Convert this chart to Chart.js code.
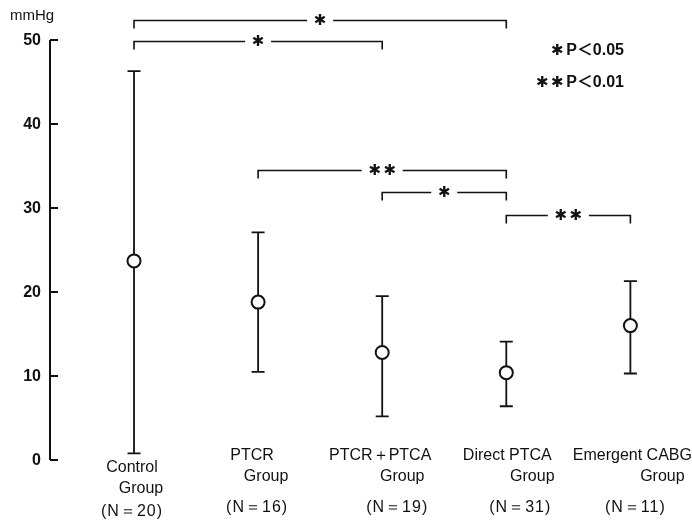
<!DOCTYPE html>
<html>
<head>
<meta charset="utf-8">
<script src="https://cdn.jsdelivr.net/npm/chart.js@4/dist/chart.umd.min.js"></script>
<style>
  body { margin: 0; background: #fff; }
  canvas { display: block; }
</style>
</head>
<body>
<canvas id="chart" width="692" height="523"></canvas>
<script>
// group names (one entry per line of the label) and sample sizes
const groupNames = [
    ['Control', 'Group'],
    ['PTCR', 'Group'],
    ['PTCR＋PTCA', 'Group'],
    ['Direct PTCA', 'Group'],
    ['Emergent CABG', 'Group']
];
const groupN = [20, 16, 19, 31, 11];

// mean and range (mmHg)
const means = [23.7, 18.8, 12.8, 10.4, 16.0];
const upper = [46.3, 27.1, 19.5, 14.1, 21.3];
const lower = [0.8, 10.5, 5.2, 6.4, 10.3];

const yTicks = [0, 10, 20, 30, 40, 50];

// significance brackets: from group, to group, number of stars, level (mmHg)
const compFrom = [0, 0, 1, 2, 3];
const compTo = [3, 2, 3, 3, 4];
const compStars = [1, 1, 2, 1, 2];
const compLevel = [52.4, 49.9, 34.5, 31.9, 29.2];

const legendStars = [1, 2];
const legendText = ['P＜0.05', 'P＜0.01'];

const ink = '#111';
const star = '✱';

// hand-tuned placement of the category text lines (dx from centre, dy from axis bottom)
const labelLayout = [
    [[-2, 8], [7, 29], [-2, 52]],
    [[-6, -4], [8, 17], [-1, 48]],
    [[-2, -4], [20, 17], [15, 48]],
    [[1, -4], [26, 17], [14, 48]],
    [[2, -4], [32, 17], [5, 48]]
];

function drawStars(ctx, n, cx, cy) {
    // n heavy asterisks centred on cx
    const gap = 15;
    ctx.font = '15px "DejaVu Sans", sans-serif';
    ctx.textAlign = 'center';
    ctx.textBaseline = 'middle';
    for (let k = 0; k < n; k++) {
        ctx.fillText(star, cx + (k - (n - 1) / 2) * gap, cy);
    }
}

const annotations = {
    id: 'annotations',
    beforeDatasetsDraw(chart) {
        const ctx = chart.ctx;
        const x = chart.scales.x;
        const y = chart.scales.y;
        const area = chart.chartArea;
        ctx.save();
        ctx.strokeStyle = ink;
        ctx.fillStyle = ink;

        // y axis with inward ticks
        ctx.lineWidth = 2;
        ctx.beginPath();
        ctx.moveTo(area.left, y.getPixelForValue(0));
        ctx.lineTo(area.left, y.getPixelForValue(50));
        ctx.stroke();
        ctx.font = 'bold 16px "Liberation Sans", Arial, sans-serif';
        ctx.textAlign = 'right';
        ctx.textBaseline = 'middle';
        yTicks.forEach(v => {
            const py = y.getPixelForValue(v);
            ctx.beginPath();
            ctx.moveTo(area.left, py);
            ctx.lineTo(area.left + 8, py);
            ctx.stroke();
            ctx.fillText(String(v), area.left - 9, py + 1);
        });
        ctx.font = '15px "Liberation Sans", Arial, sans-serif';
        ctx.textAlign = 'left';
        ctx.fillText('mmHg', 10, 16);

        // range bars
        ctx.lineWidth = 1.8;
        means.forEach((m, i) => {
            const px = x.getPixelForValue(i);
            const top = y.getPixelForValue(upper[i]);
            const bot = y.getPixelForValue(lower[i]);
            ctx.beginPath();
            ctx.moveTo(px, top);
            ctx.lineTo(px, bot);
            ctx.moveTo(px - 6.5, top);
            ctx.lineTo(px + 6.5, top);
            ctx.moveTo(px - 6.5, bot);
            ctx.lineTo(px + 6.5, bot);
            ctx.stroke();
        });

        // significance brackets
        ctx.lineWidth = 1.6;
        compFrom.forEach((f, i) => {
            const x1 = x.getPixelForValue(f);
            const x2 = x.getPixelForValue(compTo[i]);
            const py = Math.round(y.getPixelForValue(compLevel[i])) + 0.5;
            const mid = (x1 + x2) / 2;
            const half = (compStars[i] - 1) * 7.5 + 13;
            ctx.beginPath();
            ctx.moveTo(x1, py + 8);
            ctx.lineTo(x1, py);
            ctx.lineTo(mid - half, py);
            ctx.moveTo(mid + half, py);
            ctx.lineTo(x2, py);
            ctx.lineTo(x2, py + 8);
            ctx.stroke();
            drawStars(ctx, compStars[i], mid, py + 1);
        });

        // p-value key
        const keyY = [51, 83];
        legendText.forEach((t, i) => {
            ctx.font = 'bold 16px "Liberation Sans", "Noto Sans CJK JP", sans-serif';
            ctx.textAlign = 'right';
            ctx.textBaseline = 'middle';
            const w = ctx.measureText(t).width;
            ctx.fillText(t, 624, keyY[i]);
            const n = legendStars[i];
            drawStars(ctx, n, 624 - w - 9 - (n - 1) * 7.5, keyY[i]);
        });

        // category labels
        ctx.font = '16px "Liberation Sans", Arial, sans-serif';
        ctx.textAlign = 'center';
        ctx.textBaseline = 'middle';
        groupNames.forEach((lines, i) => {
            const px = x.getPixelForValue(i);
            const texts = [lines[0], lines[1], '(N＝' + groupN[i] + ')'];
            texts.forEach((t, j) => {
                const [dx, dy] = labelLayout[i][j];
                ctx.letterSpacing = j === 2 ? '1px' : '0px';
                ctx.fillText(t, px + dx, area.bottom + dy);
            });
        });
        ctx.restore();
    }
};

const ctx = document.getElementById('chart').getContext('2d');
new Chart(ctx, {
    type: 'scatter',
    data: {
        datasets: [{
            data: means.map((m, i) => ({ x: i, y: m })),
            pointRadius: 6.5,
            pointHoverRadius: 6.5,
            pointBackgroundColor: '#fff',
            pointBorderColor: ink,
            pointBorderWidth: 2
        }]
    },
    options: {
        responsive: false,
        animation: false,
        devicePixelRatio: 1,
        layout: { padding: { left: 50, top: 40, right: 0, bottom: 63 } },
        plugins: {
            legend: { display: false },
            tooltip: { enabled: false }
        },
        scales: {
            x: { type: 'linear', min: -0.677, max: 4.428, display: false },
            y: { min: 0, max: 50, display: false }
        }
    },
    plugins: [annotations]
});
</script>
</body>
</html>
